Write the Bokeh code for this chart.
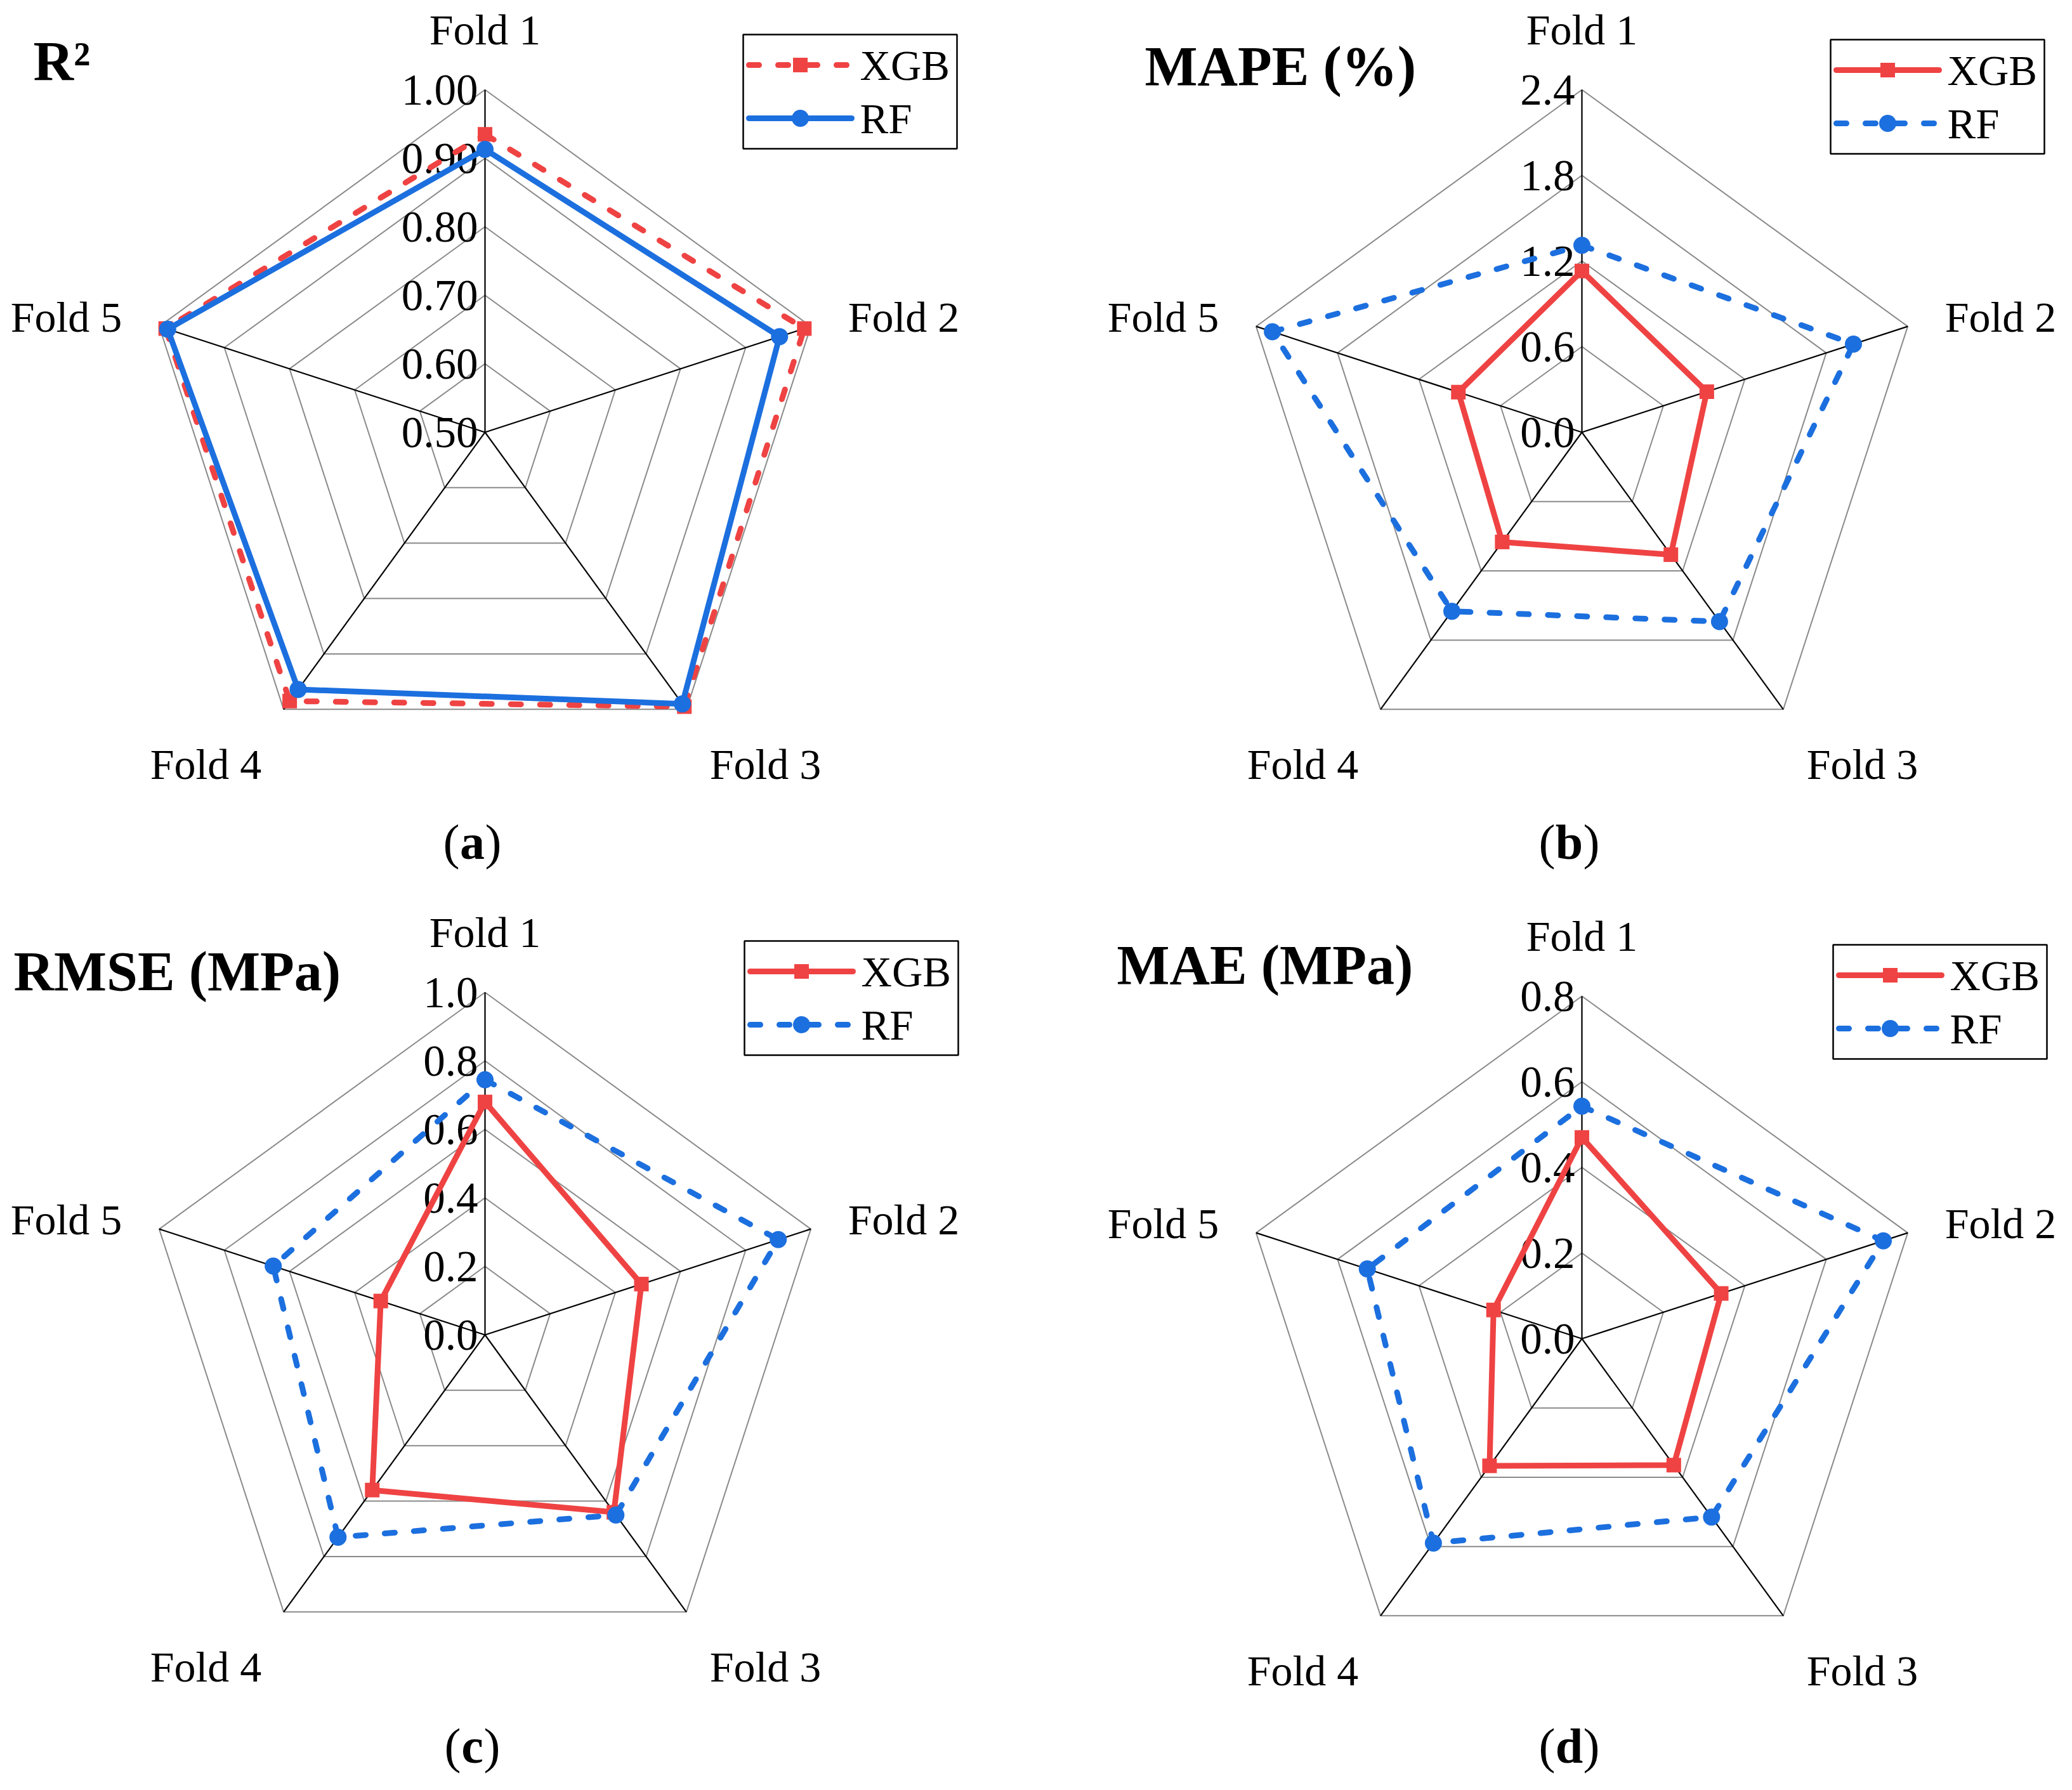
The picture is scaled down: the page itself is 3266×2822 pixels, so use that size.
import math
from bokeh.plotting import figure
from bokeh.models import Range1d
from bokeh.embed import file_html
from bokeh.resources import INLINE
from bokeh.core.properties import value

# ---------------- data ----------------
folds = ["Fold 1", "Fold 2", "Fold 3", "Fold 4", "Fold 5"]
models = ["XGB", "RF"]

r2_xgb = [0.935, 0.990, 0.995, 0.985, 0.990]
r2_rf = [0.913, 0.952, 0.990, 0.964, 0.987]
r2_ticks = [0.50, 0.60, 0.70, 0.80, 0.90, 1.00]
r2_tick_labels = ["0.50", "0.60", "0.70", "0.80", "0.90", "1.00"]

mape_xgb = [1.13, 0.92, 1.06, 0.95, 0.91]
mape_rf = [1.31, 2.00, 1.64, 1.55, 2.28]
mape_ticks = [0.0, 0.6, 1.2, 1.8, 2.4]
mape_tick_labels = ["0.0", "0.6", "1.2", "1.8", "2.4"]

rmse_xgb = [0.68, 0.48, 0.64, 0.56, 0.32]
rmse_rf = [0.745, 0.90, 0.65, 0.73, 0.65]
rmse_ticks = [0.0, 0.2, 0.4, 0.6, 0.8, 1.0]
rmse_tick_labels = ["0.0", "0.2", "0.4", "0.6", "0.8", "1.0"]

mae_xgb = [0.470, 0.342, 0.365, 0.367, 0.217]
mae_rf = [0.543, 0.740, 0.515, 0.590, 0.527]
mae_ticks = [0.0, 0.2, 0.4, 0.6, 0.8]
mae_tick_labels = ["0.0", "0.2", "0.4", "0.6", "0.8"]

titles = ["R\u00b2", "MAPE (%)", "RMSE (MPa)", "MAE (MPa)"]
letters = ["a", "b", "c", "d"]

# ---------------- style ----------------
RED = "#EF4343"
BLUE = "#1C6FDE"
GRID = "#8a8a8a"
FONT = value("Liberation Serif")
DASH = "16 30"

W, H = 3250, 2806
p = figure(width=W, height=H, x_range=Range1d(-8, W - 8), y_range=Range1d(H - 8, -8),
           output_backend="svg", toolbar_location=None, min_border=0,
           x_axis_location=None, y_axis_location=None)
p.xgrid.grid_line_color = None
p.ygrid.grid_line_color = None
p.outline_line_color = None
p.background_fill_color = "white"
p.border_fill_color = "white"

R = 540
label_offsets = [(0, -635), (660, -182), (442, 523), (-440, 523), (-660, -182)]


def radar(cx, cy, ticks, tick_labels, xgb, rf, xgb_dashed, title, title_xy,
          letter, letter_y, legend_xy):
    rmin, rmax = ticks[0], ticks[-1]

    def pt(k, v):
        frac = (v - rmin) / (rmax - rmin)
        ang = math.radians(90 - 72 * k)
        return cx + frac * R * math.cos(ang), cy - frac * R * math.sin(ang)

    # rings
    for t in ticks[1:]:
        pts = [pt(k, t) for k in range(5)]
        pts.append(pts[0])
        p.line([q[0] for q in pts], [q[1] for q in pts], line_color=GRID, line_width=2)
    # spokes
    outer = [pt(k, rmax) for k in range(5)]
    p.segment(x0=[cx] * 5, y0=[cy] * 5, x1=[q[0] for q in outer], y1=[q[1] for q in outer],
              line_color="black", line_width=2.2)
    # tick labels
    p.text(x=[cx - 11] * len(ticks), y=[pt(0, t)[1] for t in ticks], text=tick_labels,
           text_align="right", text_baseline="middle", text_font=FONT,
           text_font_size="69px", text_color="black")
    # fold labels
    p.text(x=[cx + o[0] for o in label_offsets], y=[cy + o[1] for o in label_offsets],
           text=folds, text_align="center", text_baseline="middle", text_font=FONT,
           text_font_size="68px", text_color="black")

    # data
    series = [(xgb, RED, "square", 23, xgb_dashed), (rf, BLUE, "circle", 27, not xgb_dashed)]
    for vals, col, mk, sz, dashed in series:
        pts = [pt(k, v) for k, v in enumerate(vals)]
        xs = [q[0] for q in pts]
        ys = [q[1] for q in pts]
        p.line(xs + [xs[0]], ys + [ys[0]], line_color=col, line_width=9,
               line_dash=DASH if dashed else "solid", line_cap="round", line_join="round")
        p.scatter(xs, ys, marker=mk, size=sz, fill_color=col, line_color=col, line_width=0)

    # title
    p.text(x=[title_xy[0]], y=[title_xy[1]], text=[title], text_align="left",
           text_baseline="middle", text_font=FONT, text_font_size="88px",
           text_font_style="bold", text_color="black")

    # panel letter "(x)"
    half = {"a": 20, "b": 22, "c": 18, "d": 22}[letter]
    p.text(x=[cx - 20 - half], y=[letter_y], text=["("], text_align="right",
           text_baseline="middle", text_font=FONT, text_font_size="78px", text_color="black")
    p.text(x=[cx - 20], y=[letter_y], text=[letter], text_align="center",
           text_baseline="middle", text_font=FONT, text_font_size="78px",
           text_font_style="bold", text_color="black")
    p.text(x=[cx - 20 + half], y=[letter_y], text=[")"], text_align="left",
           text_baseline="middle", text_font=FONT, text_font_size="78px", text_color="black")

    # legend
    lx, ly = legend_xy
    bw, bh = 337, 180
    p.quad(left=[lx], right=[lx + bw], top=[ly], bottom=[ly + bh], fill_color="white",
           line_color="black", line_width=2.5)
    rows = [ly + 48, ly + 132]
    for (col, mk, sz, dashed), name, ry in zip(
            [(RED, "square", 23, xgb_dashed), (BLUE, "circle", 27, not xgb_dashed)], models, rows):
        p.line([lx + 9, lx + 171], [ry, ry], line_color=col, line_width=9,
               line_dash=DASH if dashed else "solid", line_cap="round")
        p.scatter([lx + 90], [ry], marker=mk, size=sz, fill_color=col, line_color=col, line_width=0)
        p.text(x=[lx + 184], y=[ry], text=[name], text_align="left", text_baseline="middle",
               text_font=FONT, text_font_size="67px", text_color="black")


radar(756, 673, r2_ticks, r2_tick_labels, r2_xgb, r2_rf, True,
      titles[0], (44, 88), letters[0], 1319, (1163, 46))
radar(2485, 673, mape_ticks, mape_tick_labels, mape_xgb, mape_rf, False,
      titles[1], (1796, 96), letters[1], 1319, (2877, 54))
radar(756, 2096, rmse_ticks, rmse_tick_labels, rmse_xgb, rmse_rf, False,
      titles[2], (13, 1523), letters[2], 2744, (1165, 1475))
radar(2485, 2102, mae_ticks, mae_tick_labels, mae_xgb, mae_rf, False,
      titles[3], (1752, 1513), letters[3], 2744, (2881, 1481))

open("out.html", "w").write(file_html(p, INLINE))
